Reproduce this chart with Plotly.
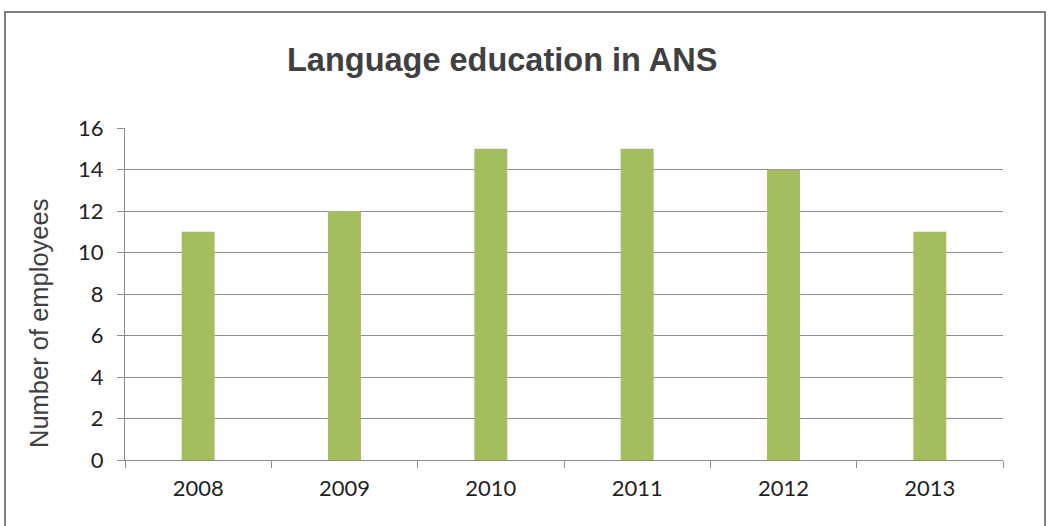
import plotly.graph_objects as go

years = ["2008", "2009", "2010", "2011", "2012", "2013"]
employees = [11, 12, 15, 15, 14, 11]
y_ticks = [0, 2, 4, 6, 8, 10, 12, 14, 16]

fig = go.Figure(
    go.Bar(
        x=years,
        y=employees,
        width=0.225,
        marker=dict(color="#a4bd5e", line=dict(width=0)),
    )
)

L, R, T, B = 125, 45, 128, 66
W, H = 1048, 526
pw, ph = W - L - R, H - T - B

def px(x):
    return (x - L) / pw

def py(y):
    return 1 - (y - T) / ph

tick_font = dict(family="Lato, Carlito, sans-serif", size=22, color="#1f1f1f")

fig.update_layout(
    width=W,
    height=H,
    margin=dict(l=L, r=R, t=T, b=B),
    paper_bgcolor="white",
    plot_bgcolor="white",
    showlegend=False,
    xaxis=dict(
        type="category",
        tickson="boundaries",
        ticks="outside",
        ticklen=7,
        tickcolor="#8c8c8c",
        showline=True,
        linecolor="#8c8c8c",
        linewidth=1,
        showgrid=False,
        ticklabelstandoff=9,
        tickfont=tick_font,
    ),
    yaxis=dict(
        range=[0, 16],
        tickvals=y_ticks,
        ticks="outside",
        ticklen=7,
        tickcolor="#8c8c8c",
        showline=True,
        linecolor="#8c8c8c",
        linewidth=1,
        showgrid=True,
        gridcolor="#8c8c8c",
        gridwidth=1,
        zeroline=False,
        ticklabelstandoff=9,
        tickfont=tick_font,
    ),
    shapes=[
        dict(
            type="rect",
            xref="paper",
            yref="paper",
            x0=px(5),
            x1=px(1045),
            y0=py(12),
            y1=py(540),
            line=dict(color="#7f7f7f", width=2),
            fillcolor="rgba(0,0,0,0)",
            layer="below",
        )
    ],
    annotations=[
        dict(
            text="<b>Language education in ANS</b>",
            xref="paper",
            yref="paper",
            x=px(502),
            y=py(60),
            showarrow=False,
            xanchor="center",
            yanchor="middle",
            font=dict(family="Liberation Sans, Arial, sans-serif", size=32.5, color="#404040"),
        ),
        dict(
            text="Number of employees",
            xref="paper",
            yref="paper",
            x=px(39),
            y=py(324),
            textangle=-90,
            showarrow=False,
            xanchor="center",
            yanchor="middle",
            font=dict(family="Liberation Sans, Arial, sans-serif", size=25.5, color="#404040"),
        ),
    ],
)

fig.write_html("out.html")
